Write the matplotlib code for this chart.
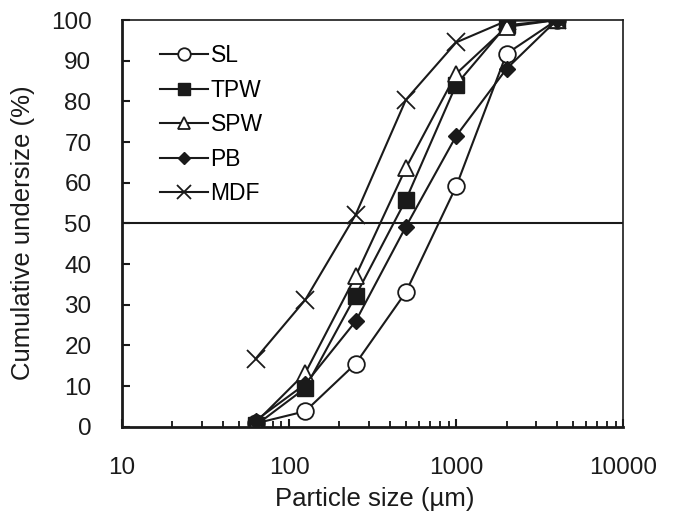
import matplotlib
matplotlib.use("Agg")
import matplotlib.pyplot as plt
from matplotlib.ticker import LogLocator, NullFormatter

plt.rcParams['font.family'] = ['Liberation Sans', 'DejaVu Sans']

sizes = [63, 125, 250, 500, 1000, 2000, 4000]
SL = [0.8, 3.8, 15.5, 33.1, 59.1, 91.7, 100]
TPW = [0.3, 9.5, 32.2, 55.8, 84.1, 98.7, 100]
SPW = [1.0, 13.2, 37.0, 63.6, 86.8, 98.3, 100]
PB = [1.5, 10.5, 25.9, 49.2, 71.5, 88.0, 100]
MDF = [16.7, 31.2, 52.1, 80.4, 94.5, 99.8, 100]
yticks = list(range(0, 101, 10))
xticks = [10, 100, 1000, 10000]
xticklabels = ['10', '100', '1000', '10000']

W, H = 674, 512
fig = plt.figure(figsize=(W / 100, H / 100), dpi=100)
ax = fig.add_axes([0.181, 0.1666, 0.7438, 0.7943])

ax.axhline(50, color='#1a1a1a', lw=1.5, zorder=1)

ax.plot(sizes, SL, '-o', color='#1a1a1a', mfc='white', mec='#1a1a1a', ms=12, mew=1.3, lw=1.5, label='SL')
ax.plot(sizes, TPW, '-s', color='#1a1a1a', mfc='#1a1a1a', ms=11, lw=1.5, label='TPW')
ax.plot(sizes, SPW, '-^', color='#1a1a1a', mfc='white', mec='#1a1a1a', ms=12, mew=1.3, lw=1.5, label='SPW')
ax.plot(sizes, PB, '-D', color='#1a1a1a', mfc='#1a1a1a', ms=8, lw=1.5, label='PB')
ax.plot(sizes, MDF, '-x', color='#1a1a1a', ms=13, mew=1.3, lw=1.5, label='MDF')

ax.set_xscale('log')
ax.set_xlim(10, 10000)
ax.set_ylim(0, 100)
ax.set_yticks(yticks)
ax.set_xticks(xticks)
ax.set_xticklabels(xticklabels)
ax.xaxis.set_minor_locator(LogLocator(base=10, subs=range(2, 10)))
ax.xaxis.set_minor_formatter(NullFormatter())

ax.tick_params(axis='both', which='major', direction='in', length=6, width=1.5, labelsize=17.5, colors='#1a1a1a')
ax.tick_params(axis='x', which='minor', direction='in', length=4, width=1.2)
ax.tick_params(axis='x', which='major', pad=21.5)
ax.tick_params(axis='y', which='major', pad=22)

for s in ['left', 'bottom']:
    ax.spines[s].set_linewidth(2)
    ax.spines[s].set_color('#1a1a1a')
for s in ['top', 'right']:
    ax.spines[s].set_linewidth(1.2)
    ax.spines[s].set_color('#1a1a1a')

fig.text(375 / W, 1 - 506 / H, 'Particle size (µm)', fontsize=18.5, ha='center', va='baseline', color='#1a1a1a')
fig.text(23 / W, 1 - 233 / H, 'Cumulative undersize (%)', fontsize=18.5, rotation=90,
         ha='center', va='center', color='#1a1a1a')

leg = ax.legend(loc='upper left', bbox_to_anchor=(151 / W, 1 - 35 / H), bbox_transform=fig.transFigure,
                frameon=False, fontsize=16.5, markerscale=0.75, handlelength=2.1, handletextpad=0.1,
                labelspacing=0.50, borderaxespad=0)

fig.savefig('out.png', dpi=100)
